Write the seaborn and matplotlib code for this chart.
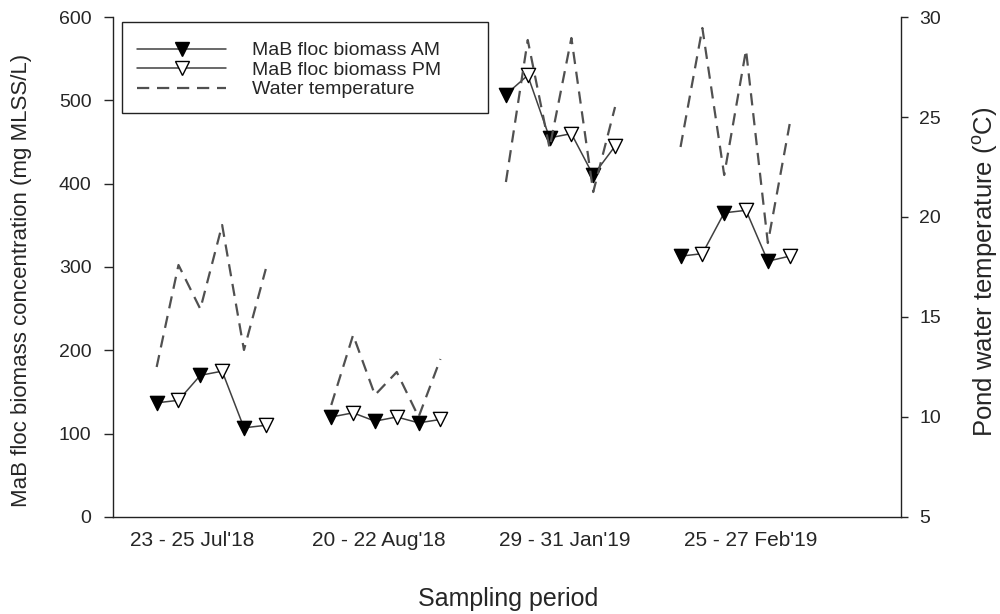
import numpy as np
import pandas as pd
import matplotlib
matplotlib.use("Agg")
import matplotlib.pyplot as plt
import seaborn as sns
from matplotlib.lines import Line2D
from matplotlib.patches import Rectangle

# Sampling periods (three days each, AM and PM samples)
periods = ["23 - 25 Jul'18", "20 - 22 Aug'18", "29 - 31 Jan'19", "25 - 27 Feb'19"]

# MaB floc biomass concentration (mg MLSS/L), one value per day
biomass_am = [[137, 170, 107], [120, 115, 113], [507, 455, 410], [313, 365, 307]]
biomass_pm = [[140, 175, 110], [125, 120, 117], [530, 460, 445], [316, 368, 313]]

# Pond water temperature (deg C), AM/PM readings over the three days
water_temp = [[12.5, 17.6, 15.4, 19.6, 13.35, 17.4],
              [10.6, 14.1, 11.1, 12.25, 10.0, 12.9],
              [21.75, 28.85, 23.45, 28.95, 21.25, 25.5],
              [23.5, 29.45, 22.1, 28.35, 18.7, 24.65]]

left_ticks = [0, 100, 200, 300, 400, 500, 600]
right_ticks = [5, 10, 15, 20, 25, 30]

# Long-form tables; each period occupies 6 slots on the x axis with a gap of 2
GROUP_STEP = 8
rows = []
for g, period in enumerate(periods):
    for d in range(3):
        rows.append(dict(period=period, session="AM", x=GROUP_STEP * g + 2 * d,
                         biomass=biomass_am[g][d]))
        rows.append(dict(period=period, session="PM", x=GROUP_STEP * g + 2 * d + 1,
                         biomass=biomass_pm[g][d]))
bio = pd.DataFrame(rows).sort_values("x")

trows = []
for g, period in enumerate(periods):
    for j, t in enumerate(water_temp[g]):
        trows.append(dict(period=period, x=GROUP_STEP * g + j, temp=t))
temp = pd.DataFrame(trows)

sns.set_style("ticks")
plt.rcParams["font.family"] = ["Liberation Sans", "DejaVu Sans"]
plt.rcParams["mathtext.default"] = "regular"

fig = plt.figure(figsize=(10, 6.14), dpi=100)
ax = fig.add_axes([0.113, 0.158, 0.788, 0.8143])
ax2 = ax.twinx()

LINE_C = "#404040"
DASH_C = "#505050"

# biomass: connecting line per period, then AM (filled) / PM (open) markers
sns.lineplot(data=bio, x="x", y="biomass", units="period", estimator=None,
             color=LINE_C, lw=1.1, legend=False, ax=ax, sort=True)
sns.scatterplot(data=bio[bio.session == "AM"], x="x", y="biomass", marker="v",
                s=105, color="black", edgecolor="black", linewidth=1.0,
                legend=False, ax=ax, zorder=3)
sns.scatterplot(data=bio[bio.session == "PM"], x="x", y="biomass", marker="v",
                s=105, color="white", edgecolor="black", linewidth=1.0,
                legend=False, ax=ax, zorder=3)

# water temperature on the secondary axis
sns.lineplot(data=temp, x="x", y="temp", units="period", estimator=None,
             color=DASH_C, lw=1.6, legend=False, ax=ax2)
for ln in ax2.lines:
    ln.set_dashes((5.5, 3.5))

ax.set_xlim(-2.0, 34.1)
ax.set_ylim(0, 600)
ax2.set_ylim(5, 30)
ax.set_yticks(left_ticks)
ax2.set_yticks(right_ticks)

tick_pos = np.linspace(1.65, 27.2, len(periods))
ax.set_xticks(tick_pos)
ax.set_xticklabels(periods)

for a in (ax, ax2):
    a.spines["top"].set_visible(False)
    for s in a.spines.values():
        s.set_linewidth(1.0)
        s.set_color("#222222")
ax.spines["right"].set_visible(False)
ax2.spines["left"].set_visible(False)
ax2.spines["bottom"].set_visible(False)

ax.tick_params(axis="x", length=0, pad=10, labelsize=15)
ax.tick_params(axis="y", direction="out", length=6.5, width=1.0, pad=9, labelsize=14)
ax2.tick_params(axis="y", direction="out", length=5, width=1.0, pad=8, labelsize=14)

ax.set_xlabel("Sampling period", fontsize=18)
ax.xaxis.set_label_coords(0.501, -0.140)
ax.set_ylabel("MaB floc biomass concentration (mg MLSS/L)", fontsize=16, va="center")
ax.yaxis.set_label_coords(-0.1155, 0.474)
ax2.set_ylabel("Pond water temperature ($^{o}$C)", fontsize=18.5, va="center", rotation=90)
ax2.yaxis.set_label_coords(1.1066, 0.49)

# legend inside a fixed frame at the upper left
handles = [
    Line2D([], [], color=LINE_C, lw=1.1, marker="v", markersize=10,
           markerfacecolor="black", markeredgecolor="black"),
    Line2D([], [], color=LINE_C, lw=1.1, marker="v", markersize=10,
           markerfacecolor="white", markeredgecolor="black"),
    Line2D([], [], color=DASH_C, lw=1.6, dashes=(5.5, 3.5)),
]
labels = ["MaB floc biomass AM", "MaB floc biomass PM", "Water temperature"]
fig.legend(handles, labels, loc="upper left", bbox_to_anchor=(0.137, 0.932),
           frameon=False, fontsize=14, handlelength=4.6, handletextpad=1.3,
           labelspacing=0.1, borderpad=0, borderaxespad=0)
fig.add_artist(Rectangle((0.122, 0.816), 0.366, 0.148, transform=fig.transFigure,
                         fill=False, edgecolor="#222222", lw=1.0))

fig.savefig("out.png", dpi=100)
